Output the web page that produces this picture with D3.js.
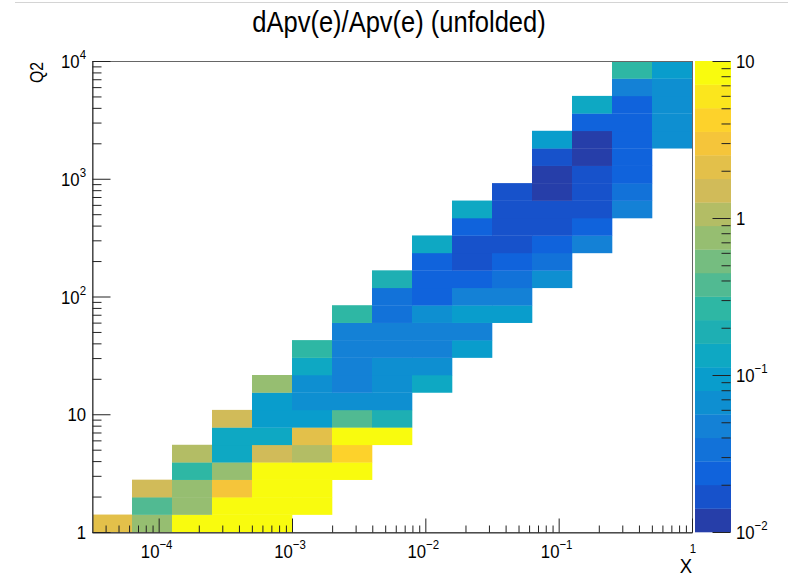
<!DOCTYPE html>
<html>
<head>
<meta charset="utf-8">
<script src="https://cdn.jsdelivr.net/npm/d3@7/dist/d3.min.js"></script>
<style>
body { margin: 0; background: #fff; }
text { font-family: "Liberation Sans", Arial, Helvetica, sans-serif; fill: #000; }
</style>
</head>
<body>
<svg id="chart" width="788" height="587"></svg>
<script>
"use strict";

// histogram binning: 15 log bins in x, 27 log bins in Q2
var xMin = Math.pow(10, -4.5), xMax = 1;
var yMin = 1, yMax = 1e4;
var nx = 15, ny = 27;
var zMin = 0.01, zMax = 10, nContours = 20;

// first filled Q2 bin of each x column, then the bin contents going up
var colFirstRow = [0, 0, 0, 0, 0, 1, 3, 5, 8, 10, 12, 14, 16, 18, 22];
var colValues = [
	[2.1],
	[0.75, 0.38, 1.5],
	[9, 0.75, 0.75, 0.27, 1.06],
	[9, 9, 3.0, 0.75, 0.13, 0.13, 1.5],
	[9, 9, 9, 9, 1.5, 0.13, 0.094, 0.094, 0.75],
	[9, 9, 9, 1.06, 2.1, 0.094, 0.067, 0.067, 0.13, 0.27],
	[9, 4.2, 9, 0.38, 0.067, 0.047, 0.047, 0.047, 0.047, 0.27],
	[9, 0.19, 0.067, 0.067, 0.067, 0.047, 0.047, 0.034, 0.034, 0.19],
	[0.13, 0.067, 0.047, 0.047, 0.067, 0.024, 0.024, 0.024, 0.13],
	[0.094, 0.047, 0.094, 0.047, 0.024, 0.017, 0.017, 0.024, 0.13],
	[0.094, 0.047, 0.034, 0.024, 0.017, 0.017, 0.017, 0.017],
	[0.067, 0.034, 0.024, 0.017, 0.017, 0.012, 0.012, 0.017, 0.094],
	[0.047, 0.024, 0.017, 0.017, 0.017, 0.012, 0.012, 0.024, 0.13],
	[0.047, 0.034, 0.024, 0.024, 0.024, 0.024, 0.024, 0.047, 0.27],
	[0.067, 0.067, 0.067, 0.067, 0.094]
];

var xTickValues = [1e-4, 1e-3, 1e-2, 1e-1, 1];
var xTickLabels = [["10", "\u22124"], ["10", "\u22123"], ["10", "\u22122"], ["10", "\u22121"], ["1", ""]];
var yTickValues = [1, 10, 100, 1000, 10000];
var yTickLabels = [["1", ""], ["10", ""], ["10", "2"], ["10", "3"], ["10", "4"]];
var zTickValues = [0.01, 0.1, 1, 10];
var zTickLabels = [["10", "\u22122"], ["10", "\u22121"], ["1", ""], ["10", ""]];

// kBird palette
var birdStops = [0, 0.125, 0.25, 0.375, 0.5, 0.625, 0.75, 0.875, 1];
var birdColors = ["#352a87", "#0f5cdd", "#1481d6", "#06a4ca", "#2eb7a4", "#87bf77", "#d1bb59", "#fec832", "#f9fb0e"];

var bird = d3.scaleLinear().domain(birdStops).range(birdColors).interpolate(d3.interpolateRgb);

function levelOf(v) {
	var l = Math.floor((Math.log10(v) - Math.log10(zMin)) / (Math.log10(zMax / zMin) / nContours));
	return Math.max(0, Math.min(nContours - 1, l));
}
function levelColor(l) {
	return bird(Math.min(1, (l + 0.99) / nContours));
}

var svg = d3.select("#chart");
var padL = 92, padR = 692, padT = 61, padB = 532;
var squeeze = 0.88; // the original font is narrower than Liberation Sans

var x = d3.scaleLog().domain([xMin, xMax]).range([padL, padR]);
var y = d3.scaleLog().domain([yMin, yMax]).range([padB, padT]);
var z = d3.scaleLog().domain([zMin, zMax]).range([padB, padT]);

var xEdges = d3.range(nx + 1).map(function(i) { return xMin * Math.pow(xMax / xMin, i / nx); });
var yEdges = d3.range(ny + 1).map(function(j) { return yMin * Math.pow(yMax / yMin, j / ny); });

// faint line across the top of the screenshot
svg.append("line").attr("x1", 15).attr("x2", 788).attr("y1", 2.5).attr("y2", 2.5)
	.attr("stroke", "#d4d4d4").attr("stroke-width", 1);

// cells
var cells = [];
colValues.forEach(function(vals, c) {
	vals.forEach(function(v, k) {
		cells.push({ c: c, r: colFirstRow[c] + k, v: v });
	});
});

svg.append("g").selectAll("rect").data(cells).enter().append("rect")
	.attr("x", function(d) { return x(xEdges[d.c]); })
	.attr("y", function(d) { return y(yEdges[d.r + 1]); })
	.attr("width", function(d) { return x(xEdges[d.c + 1]) - x(xEdges[d.c]) + 0.3; })
	.attr("height", function(d) { return y(yEdges[d.r]) - y(yEdges[d.r + 1]) + 0.3; })
	.attr("fill", function(d) { return levelColor(levelOf(d.v)); });

// frame
svg.append("rect").attr("x", padL + 0.5).attr("y", padT + 0.5)
	.attr("width", padR - padL).attr("height", padB - padT)
	.attr("fill", "none").attr("stroke", "#666");

function minorTicks(lo, hi) {
	var out = [];
	for (var d = Math.floor(Math.log10(lo)); d <= Math.ceil(Math.log10(hi)); d++) {
		for (var k = 2; k <= 9; k++) {
			var t = k * Math.pow(10, d);
			if (t > lo && t < hi) out.push(t);
		}
	}
	return out;
}

function styleAxis(g) {
	g.selectAll("line").attr("stroke", "#222");
	g.selectAll("path").attr("stroke", "#333");
	g.selectAll("text").remove();
}

// x axis
svg.append("g").attr("transform", "translate(0," + (padB + 0.5) + ")")
	.call(d3.axisBottom(x).tickValues(xTickValues).tickSizeInner(-14).tickSizeOuter(0).tickFormat(""))
	.call(styleAxis);
svg.append("g").attr("transform", "translate(0," + (padB + 0.5) + ")")
	.call(d3.axisBottom(x).tickValues(minorTicks(xMin, xMax)).tickSizeInner(-7).tickSizeOuter(0).tickFormat(""))
	.call(styleAxis).select(".domain").remove();

// y axis
svg.append("g").attr("transform", "translate(" + (padL + 0.5) + ",0)")
	.call(d3.axisLeft(y).tickValues(yTickValues).tickSizeInner(-18).tickSizeOuter(0).tickFormat(""))
	.call(styleAxis);
svg.append("g").attr("transform", "translate(" + (padL + 0.5) + ",0)")
	.call(d3.axisLeft(y).tickValues(minorTicks(yMin, yMax)).tickSizeInner(-9).tickSizeOuter(0).tickFormat(""))
	.call(styleAxis).select(".domain").remove();

// palette
var palX = 695, palW = 36;
svg.append("g").selectAll("rect").data(d3.range(nContours)).enter().append("rect")
	.attr("x", palX)
	.attr("y", function(l) { return z(zMin * Math.pow(zMax / zMin, (l + 1) / nContours)); })
	.attr("width", palW)
	.attr("height", function(l) {
		return z(zMin * Math.pow(zMax / zMin, l / nContours)) - z(zMin * Math.pow(zMax / zMin, (l + 1) / nContours)) + 0.3;
	})
	.attr("fill", levelColor);

svg.append("g").attr("transform", "translate(" + (palX + palW - 0.5) + ",0)")
	.call(d3.axisRight(z).tickValues(zTickValues).tickSizeInner(-18).tickSizeOuter(0).tickFormat(""))
	.call(styleAxis).select(".domain").remove();
svg.append("g").attr("transform", "translate(" + (palX + palW - 0.5) + ",0)")
	.call(d3.axisRight(z).tickValues(minorTicks(zMin, zMax)).tickSizeInner(-9).tickSizeOuter(0).tickFormat(""))
	.call(styleAxis).select(".domain").remove();

// labels
function addText(px, py, anchor, size, rot) {
	return svg.append("text")
		.attr("transform", "translate(" + px + "," + py + ")" + (rot ? " rotate(" + rot + ")" : "") + " scale(" + squeeze + ",1)")
		.attr("text-anchor", anchor).style("font-size", size + "px");
}

function powLabel(px, py, anchor, parts, size, expSize) {
	var t = addText(px, py, anchor, size);
	t.append("tspan").text(parts[0]);
	if (parts[1]) {
		t.append("tspan").attr("dy", -Math.round(size * 0.48)).style("font-size", expSize + "px").text(parts[1]);
	}
	return t;
}

xTickValues.forEach(function(v, i) {
	if (xTickLabels[i][1]) {
		powLabel(x(v) - 2, 558, "middle", xTickLabels[i], 19, 13);
	} else {
		powLabel(x(v) + 1, 553, "middle", xTickLabels[i], 13, 12);
	}
});
yTickValues.forEach(function(v, i) {
	powLabel(86, y(v) + 7, "end", yTickLabels[i], 19, 13);
});
zTickValues.forEach(function(v, i) {
	powLabel(736, z(v) + 6.5, "start", zTickLabels[i], 19, 13);
});

addText(399, 32, "middle", 29).text("dApv(e)/Apv(e) (unfolded)");

addText(43, 62, "end", 18, -90).text("Q2");

addText(692, 573, "end", 21).text("X");
</script>
</body>
</html>
